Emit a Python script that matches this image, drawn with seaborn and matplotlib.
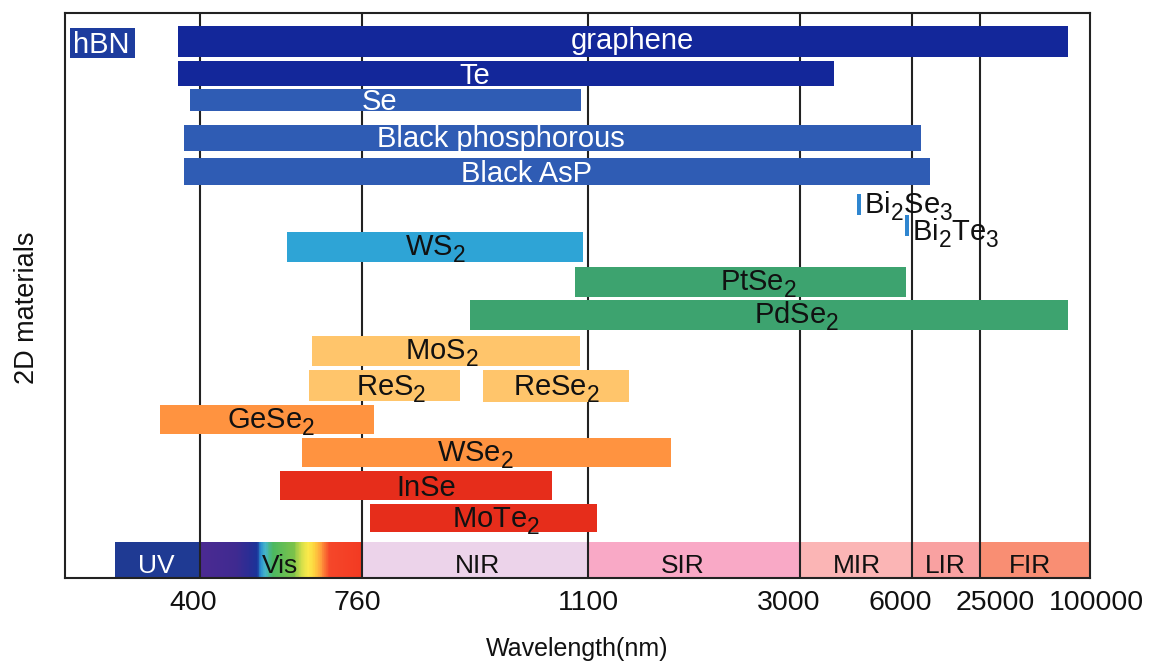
import numpy as np
import pandas as pd
import matplotlib
matplotlib.use('Agg')
import matplotlib.pyplot as plt
import matplotlib.transforms as mtransforms
from matplotlib.colors import LinearSegmentedColormap
from matplotlib.ticker import NullLocator
import seaborn as sns

sns.set_theme(style='white')
plt.rcParams['font.family'] = ['Liberation Sans', 'DejaVu Sans']
plt.rcParams['mathtext.default'] = 'regular'

# bigger, lower subscripts (closer to the original figure)
try:
    import matplotlib._mathtext as _mt
    _mt.SHRINK_FACTOR = 0.78
    for cls in [_mt.FontConstantsBase] + _mt.FontConstantsBase.__subclasses__():
        cls.subdrop = 0.55
        cls.sub1 = 0.45
except Exception as err:
    print('mathtext tweak skipped:', err)

# response ranges of the 2D materials (nm)
MATERIALS = ['hBN', 'graphene', 'Te', 'Se', 'Black phosphorous', 'Black AsP',
             'Bi2Se3', 'Bi2Te3', 'WS2', 'PtSe2', 'PdSe2', 'MoS2', 'ReS2', 'ReSe2',
             'GeSe2', 'WSe2', 'InSe', 'MoTe2']
LABELS = ['hBN', 'graphene', 'Te', 'Se', 'Black phosphorous', 'Black AsP',
          r'Bi$_2$Se$_3$', r'Bi$_2$Te$_3$', r'WS$_2$', r'PtSe$_2$', r'PdSe$_2$',
          r'MoS$_2$', r'ReS$_2$', r'ReSe$_2$', r'GeSe$_2$', r'WSe$_2$', 'InSe', r'MoTe$_2$']
START_NM = [111, 350, 350, 378, 364, 364, 4530, 5810, 593, 1080, 922,
            649, 642, 942, 311, 627, 578, 772]
END_NM = [256, 85000, 3900, 1090, 8500, 11000, 4640, 5920, 1092, 5840, 85000,
          1088, 907, 1467, 778, 1844, 1046, 1181]
GROUP = ['hbn', 'navy', 'navy', 'blue', 'blue', 'blue', 'bi', 'bi', 'sky',
         'green', 'green', 'yellow', 'yellow', 'yellow', 'orange', 'orange', 'red', 'red']

# spectral regions along the bottom
BANDS = ['UV', 'Vis', 'NIR', 'SIR', 'MIR', 'LIR', 'FIR']
BAND_START = [210, 400, 760, 1100, 3000, 6000, 25000]
BAND_END = [400, 760, 1100, 3000, 6000, 25000, 100000]

TICKS = [400, 760, 1100, 3000, 6000, 25000, 100000]
TICK_LABELS = ['400', '760', '1100', '3000', '6000', '25000', '100000']

# layout (row index from top, bar height in rows, label anchor)
ROW = [0.07, 0, 0.98, 1.79, 2.94, 3.95, 4.96, 5.59, 6.24, 7.30, 8.30,
       9.39, 10.45, 10.45, 11.47, 12.47, 13.47, 14.45]
HEIGHT = [0.91, 0.94, 0.76, 0.67, 0.79, 0.82, 0.64, 0.62, 0.91, 0.91, 0.91,
          0.91, 0.94, 0.97, 0.88, 0.88, 0.88, 0.85]
LABEL_X = [180, 1500, 930, 787, 969, 1008, 4715, 6010, 870, 2624, 2970,
           880, 804, 1053, 558, 931, 856, 962]
LABEL_DY = [0.3, 0.24, 0.33, 0.3, 0.28, 0.32, 0.27, 0.45, 0.28, 0.28, 0.28,
            0.28, 0.3, 0.3, 0.27, 0.28, 0.32, 0.3]
BAND_LABEL_X = [302, 578, 934, 1951, 4527, 15220, 59090]
BAND_ROW, BAND_H = 15.73, 1.09
TICK_SHIFT_PX = [-7, -5, 0, -11, -12, 15, 6]

PALETTE = {'hbn': '#1d3c9e', 'navy': '#13279a', 'blue': '#2f5cb4', 'bi': '#2f86d0',
           'sky': '#2ea4d6', 'green': '#3da36f', 'yellow': '#ffc56b',
           'orange': '#ff9340', 'red': '#e62d1b'}
BAND_COLORS = ['#1f3a93', None, '#ecd3ea', '#f9a9c6', '#fbb5b5', '#f9a1a1', '#f98e73']

df = pd.DataFrame({'material': MATERIALS, 'label': LABELS, 'start': START_NM,
                   'end': END_NM, 'group': GROUP, 'row': ROW, 'height': HEIGHT,
                   'label_x': LABEL_X, 'label_dy': LABEL_DY})
df['width'] = df['end'] - df['start']

# piecewise axis: each labelled wavelength gets its own segment
KNOT_NM = [100, 400, 760, 1100, 3000, 6000, 25000, 100000]
KNOT_POS = [0, 135, 297, 523, 735, 847, 915, 1025]


def fwd(x):
    return np.interp(x, KNOT_NM, KNOT_POS)


def inv(p):
    return np.interp(p, KNOT_POS, KNOT_NM)


fig = plt.figure(figsize=(11.49, 6.62), dpi=100)
ax = fig.add_axes([0.0566, 0.1269, 0.8921, 0.8535])
ax.set_xscale('function', functions=(fwd, inv))
ax.set_xlim(100, 100000)
ax.set_ylim(16.27, -0.85)

# spectrum strip
for name, s, e, c, lx in zip(BANDS, BAND_START, BAND_END, BAND_COLORS, BAND_LABEL_X):
    if c is not None:
        ax.barh(BAND_ROW, e - s, left=s, height=BAND_H, color=c, linewidth=0, zorder=1)
    ax.text(lx, BAND_ROW + 0.38, name, ha='center', va='baseline', fontsize=19,
            color='white' if name == 'UV' else '#111111', zorder=4)

vis = LinearSegmentedColormap.from_list('vis', [
    (0.0, '#4b2a92'), (0.22, '#3f2a90'), (0.30, '#2a2d94'), (0.35, '#1b3399'),
    (0.375, '#2a8fd0'), (0.40, '#45b5c8'), (0.45, '#4cb860'), (0.58, '#7cc24a'),
    (0.63, '#d8e04a'), (0.67, '#fbe94a'), (0.71, '#fdd23f'), (0.75, '#ff9a3c'),
    (0.80, '#f5472a'), (1.0, '#f33a22')])
edges = np.linspace(BAND_START[1], BAND_END[1], 181)
for i in range(len(edges) - 1):
    ax.barh(BAND_ROW, edges[i + 1] - edges[i] + 0.5, left=edges[i], height=BAND_H,
            color=vis(i / (len(edges) - 2)), linewidth=0, zorder=1)

# divider lines
ax.vlines(TICKS[:-1], -0.85, 16.27, colors='#222222', linewidth=1.5, zorder=2)

# material bars
for _, r in df.iterrows():
    ax.barh(r['row'], r['width'], left=r['start'], height=r['height'],
            color=PALETTE[r['group']], linewidth=0, zorder=3)
    tc = 'white' if r['group'] in ('hbn', 'navy', 'blue') else '#111111'
    ax.text(r['label_x'], r['row'] + r['label_dy'], r['label'],
            ha='left' if r['group'] == 'bi' else 'center', va='baseline',
            fontsize=21, color=tc, zorder=4)

ax.set_xticks(TICKS)
ax.set_xticklabels(TICK_LABELS)
ax.xaxis.set_minor_locator(NullLocator())
ax.set_yticks([])
ax.tick_params(axis='x', length=0, pad=9, labelsize=20.5, labelcolor='#111111')
for lab, dx in zip(ax.get_xticklabels(), TICK_SHIFT_PX):
    lab.set_transform(lab.get_transform() +
                      mtransforms.ScaledTranslation(dx / 100, 0, fig.dpi_scale_trans))
for sp in ax.spines.values():
    sp.set_color('#222222')
    sp.set_linewidth(1.5)
ax.set_xlabel('Wavelength(nm)', fontsize=18, color='#111111', labelpad=15)
ax.set_ylabel('2D materials', fontsize=19.5, color='#111111')
ax.yaxis.set_label_coords(-0.0244, 0.478)

fig.savefig('out.png', dpi=100)
